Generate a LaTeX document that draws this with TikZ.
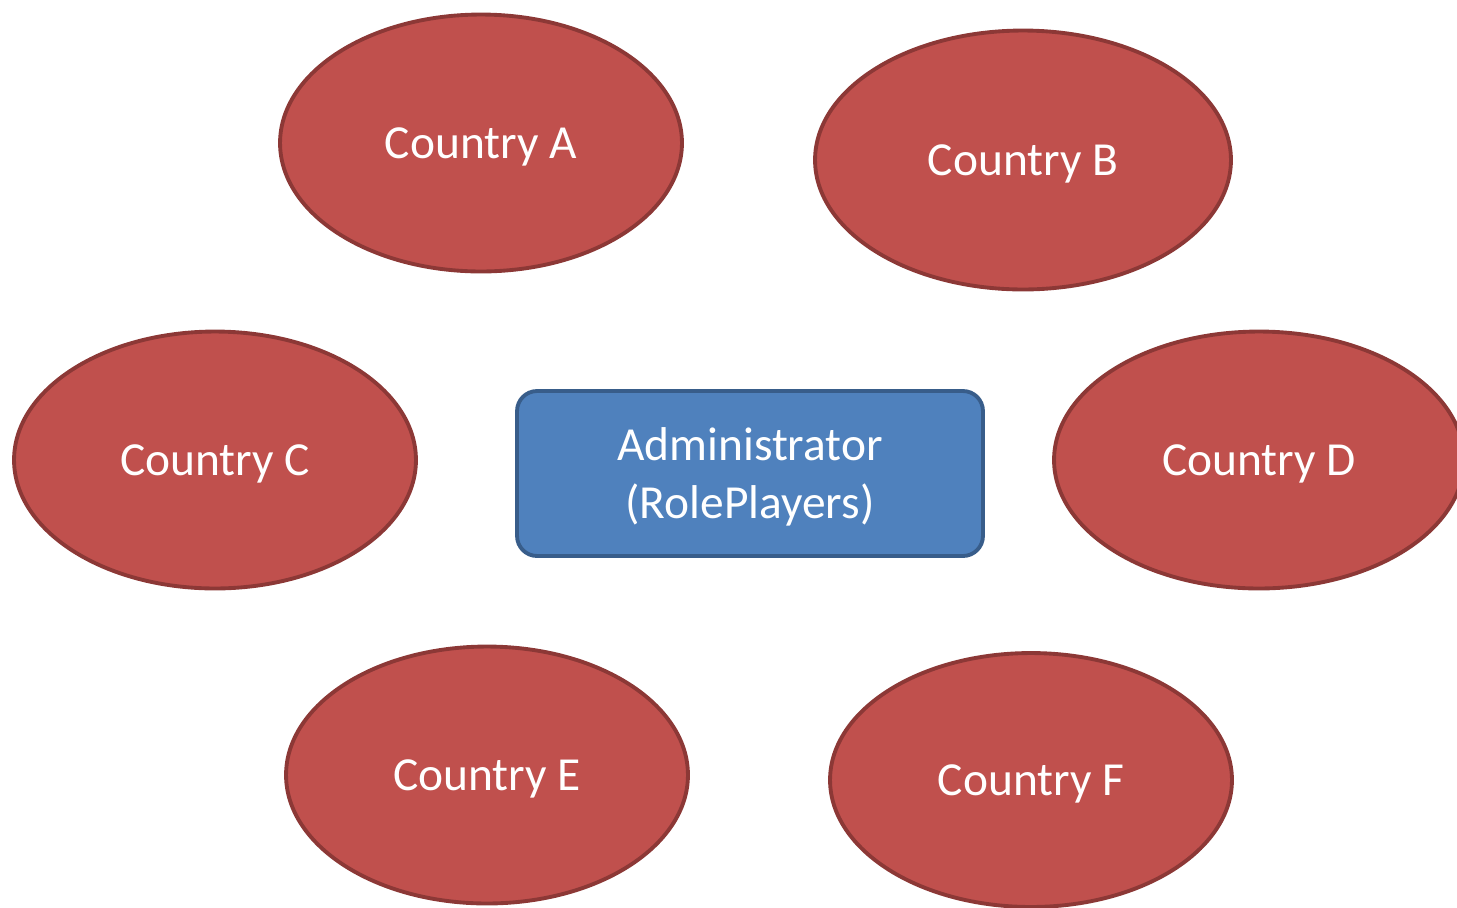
\documentclass[tikz,border=0pt]{standalone}
\usepackage{fontspec}
\setmainfont{Carlito}
\usetikzlibrary{shapes.geometric}
\definecolor{ctyfill}{HTML}{C0504D}
\definecolor{ctyline}{HTML}{8C3836}
\definecolor{admfill}{HTML}{4F81BD}
\definecolor{admline}{HTML}{385D8A}
\begin{document}
\begin{tikzpicture}[x=0.02cm,y=-0.02cm,
  country/.style={ellipse,draw=ctyline,fill=ctyfill,line width=2.2pt,
    minimum width=8.04cm,minimum height=5.14cm,inner sep=0pt,text=white,
    text depth=0pt,font=\fontsize{27}{33}\selectfont},
  admin/.style={rectangle,rounded corners=0.4cm,draw=admline,fill=admfill,
    line width=2.2pt,minimum width=9.32cm,minimum height=3.3cm,text=white,
    text depth=0pt,align=center,font=\fontsize{27}{33}\selectfont}]
\useasboundingbox (0,0) rectangle (1457,907);
\clip (0,0) rectangle (1457,907);
\node[country] (ctyA)at(481,143){Country A};
\node[country,minimum width=8.32cm,minimum height=5.18cm] (ctyB)at(1023,160){Country B};
\node[country] (ctyC)at(215,460){Country C};
\node[country,minimum width=8.2cm] (ctyD)at(1259,460){Country D};
\node[country] (ctyE)at(487,775){Country E};
\node[country,minimum height=5.08cm] (ctyF)at(1031,780){Country F};
\node[admin] (admin)at(750,473.5){Administrator\\(RolePlayers)};
\end{tikzpicture}
\end{document}
